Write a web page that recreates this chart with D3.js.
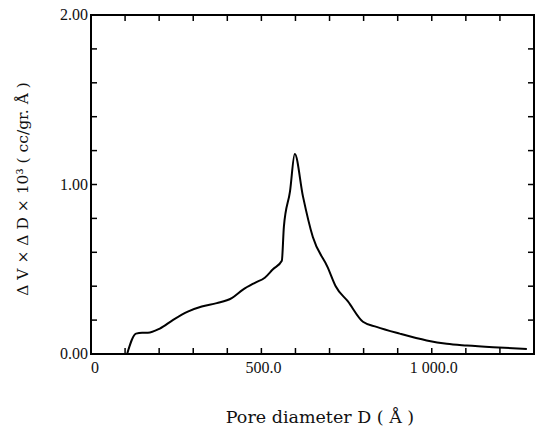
<!DOCTYPE html>
<html>
<head>
<meta charset="utf-8">
<script src="https://d3js.org/d3.v7.min.js"></script>
<style>
    html, body { margin: 0; padding: 0; background: #fff; }
    svg { display: block; }
    text { font-family: "Liberation Serif", "DejaVu Serif", serif; fill: #111; }
    text.title { font-family: "DejaVu Serif", serif; }
</style>
</head>
<body>
<div id="chart"></div>
<script>
    // pore size distribution
    var poreDiameter = [106, 132, 150, 167, 202, 240, 284, 325, 369, 413, 446, 481, 510, 534, 560,
        566, 584, 598, 622, 651, 695, 718, 754, 798, 838, 906, 985, 1044, 1103, 1180, 1279];
    var dvdd = [0.00, 0.12, 0.125, 0.125, 0.15, 0.20, 0.25, 0.28, 0.30, 0.33, 0.38, 0.42, 0.45, 0.50, 0.55,
        0.75, 0.96, 1.18, 0.93, 0.69, 0.51, 0.40, 0.31, 0.19, 0.16, 0.12, 0.08, 0.06, 0.05, 0.04, 0.03];

    var xTicks = d3.range(100, 1300, 100);
    var yTicks = d3.range(0.2, 2.0, 0.2);
    var xLabels = [0, 500, 1000];
    var xLabelText = ["0", "500.0", "1 000.0"];
    var yLabels = [0, 1, 2];
    var yLabelText = ["0.00", "1.00", "2.00"];

    var width = 536, height = 430;
    var margin = {top: 15, right: 534, bottom: 354, left: 91};

    var x = d3.scaleLinear().domain([0, 1300]).range([margin.left, margin.right]);
    var y = d3.scaleLinear().domain([0, 2]).range([margin.bottom, margin.top]);

    var svg = d3.select("#chart").append("svg")
        .attr("width", width)
        .attr("height", height);

    // frame
    svg.append("rect")
        .attr("x", margin.left).attr("y", margin.top)
        .attr("width", margin.right - margin.left).attr("height", margin.bottom - margin.top)
        .style("fill", "none").style("stroke", "#000").style("stroke-width", 2);

    var tickLen = 6;
    var ticks = svg.append("g").style("stroke", "#000").style("stroke-width", 1.5);

    // inward ticks on all four sides
    xTicks.forEach(function (t) {
        ticks.append("line").attr("x1", x(t)).attr("x2", x(t))
            .attr("y1", margin.bottom).attr("y2", margin.bottom - tickLen);
        ticks.append("line").attr("x1", x(t)).attr("x2", x(t))
            .attr("y1", margin.top).attr("y2", margin.top + tickLen);
    });
    yTicks.forEach(function (t) {
        ticks.append("line").attr("x1", margin.left).attr("x2", margin.left + tickLen)
            .attr("y1", y(t)).attr("y2", y(t));
        ticks.append("line").attr("x1", margin.right).attr("x2", margin.right - tickLen)
            .attr("y1", y(t)).attr("y2", y(t));
    });

    svg.selectAll("text.ylab").data(yLabels).enter()
        .append("text")
        .attr("class", "ylab")
        .attr("x", margin.left - 3)
        .attr("y", function (d) { return y(d) + 5; })
        .style("text-anchor", "end")
        .style("font-size", "16px")
        .text(function (d, i) { return yLabelText[i]; });

    svg.selectAll("text.xlab").data(xLabels).enter()
        .append("text")
        .attr("class", "xlab")
        .attr("x", function (d) { return d === 0 ? x(d) + 4 : x(d) + 2; })
        .attr("y", 373)
        .style("text-anchor", "middle")
        .style("font-size", "16px")
        .text(function (d, i) { return xLabelText[i]; });

    // the curve
    var line = d3.line()
        .x(function (d, i) { return x(poreDiameter[i]); })
        .y(function (d) { return y(d); })
        .curve(d3.curveMonotoneX);

    svg.append("path")
        .datum(dvdd)
        .attr("d", line)
        .style("fill", "none")
        .style("stroke", "#000")
        .style("stroke-width", 2);

    // axis titles
    svg.append("text")
        .attr("class", "title")
        .attr("x", 320)
        .attr("y", 423)
        .style("text-anchor", "middle")
        .style("font-size", "17.5px")
        .text("Pore diameter D ( Å )");

    svg.append("text")
        .attr("class", "title")
        .attr("transform", "translate(28,189) rotate(-90)")
        .style("text-anchor", "middle")
        .style("font-size", "15.5px")
        .text("Δ V × Δ D × 10³ ( cc/gr. Å )");
</script>
</body>
</html>
